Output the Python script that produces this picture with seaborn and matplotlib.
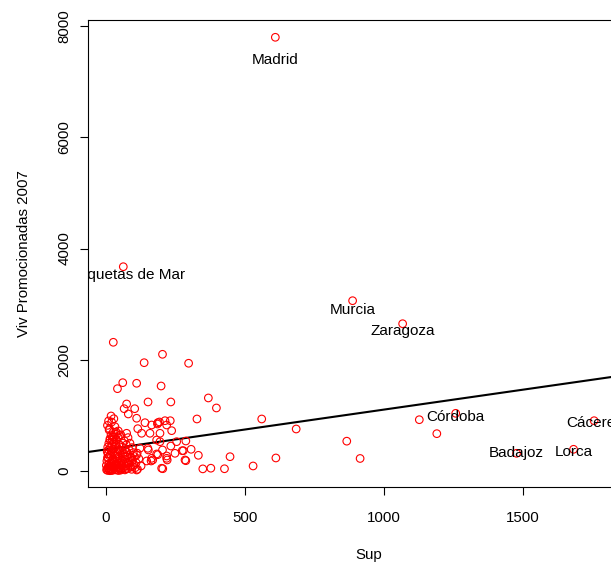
import numpy as np
import pandas as pd
import matplotlib
matplotlib.use('Agg')
import matplotlib.pyplot as plt
import seaborn as sns

# Municipios con etiqueta
nombres = ['Madrid', 'Roquetas de Mar', 'Murcia', 'Zaragoza', 'Córdoba',
           'Cáceres', 'Badajoz', 'Lorca']
sup_lab = [609, 62, 887, 1067, 1258, 1756, 1477, 1682]
viv_lab = [7798, 3673, 3062, 2648, 1037, 904, 318, 390]

# Resto de municipios (leídos a ojo del gráfico)
sup_resto = [866, 914, 1127, 1190, 684, 611, 529, 560, 426, 377, 348, 446, 397, 368,
             327, 332, 297, 203, 26, 137, 60, 41, 110, 198, 151, 233, 74, 65, 103,
             287, 233, 274, 278, 287, 220, 204, 186, 203, 150, 218, 146, 113,
             18, 80, 110, 140, 186, 212, 231, 218, 164, 11, 32, 74, 114, 128, 158,
             194, 236, 254, 194, 152, 306, 164, 182, 218, 248, 284, 110, 200, 14,
             192, 185, 110, 162, 168, 182,
             2, 4, 6, 8, 10, 12, 14, 16, 18, 20, 22, 24, 26, 28, 30, 32, 34, 36, 38, 40,
             42, 44, 46, 48, 50, 52, 55, 58, 60, 62, 65, 68, 70, 72, 75, 78, 80, 85, 88, 92,
             95, 100, 105, 3, 5, 7, 9, 11, 13, 15, 17, 19, 21, 23, 25, 27, 29, 31, 33, 35,
             37, 39, 41, 43, 45, 47, 49, 51, 53, 56, 59, 63, 66, 69, 73, 76, 79, 83, 86, 90,
             94, 98, 102, 1, 6, 10, 14, 18, 22, 26, 30, 34, 38, 44, 4, 8, 12, 16, 20, 24,
             28, 32, 36, 40, 46, 52, 57, 61, 67, 71, 77, 82, 87, 96, 108, 112, 118, 122, 126,
             5, 12, 20, 28, 36, 48, 9, 24]
viv_resto = [536, 225, 922, 671, 755, 234, 90, 935, 40, 50, 38, 257, 1133, 1313,
             935, 282, 1937, 2098, 2314, 1947, 1588, 1480, 1577, 1528, 1241, 1241, 1205, 1120, 1120,
             539, 449, 365, 365, 185, 198, 41, 293, 378, 408, 270, 180, 31,
             989, 1025, 948, 868, 868, 904, 904, 827, 827, 737, 797, 678, 761, 678, 678,
             678, 725, 527, 527, 378, 390, 228, 306, 228, 318, 198, 18, 49, 557,
             881, 845, 288, 180, 198, 557,
             20, 45, 10, 60, 30, 85, 5, 120, 40, 150, 70, 15, 200, 95, 50, 260, 130, 25, 180, 75,
             310, 8, 140, 55, 230, 100, 35, 175, 280, 60, 120, 20, 210, 90, 340, 45, 160, 250, 70, 30,
             190, 110, 60, 180, 240, 310, 380, 130, 270, 420, 90, 350, 470, 210, 390, 520, 160, 440, 20, 300,
             560, 110, 400, 610, 250, 480, 30, 360, 650, 200, 430, 330, 540, 260, 470, 150, 600, 380, 500, 240,
             420, 330, 260, 100, 430, 500, 580, 650, 560, 700, 610, 480, 660, 720, 350, 240, 20, 300, 10, 330,
             400, 120, 450, 220, 380, 15, 90, 500, 380, 40, 280, 110, 180, 80, 150, 320, 220, 410, 90,
             820, 760, 880, 940, 700, 640, 900, 610]

# Recta de regresión
intercepto = 388
pendiente = 0.716

# Desplazamiento de cada etiqueta respecto a su punto (en puntos)
desp = {'Madrid': (0, -16.5), 'Roquetas de Mar': (2, -6), 'Murcia': (0, -6.5),
        'Zaragoza': (0, -5), 'Córdoba': (0, -3), 'Cáceres': (0, -2),
        'Badajoz': (0, 0.5), 'Lorca': (0, -2)}

df = pd.DataFrame({'Sup': sup_resto + sup_lab, 'Viv': viv_resto + viv_lab})

sns.set_theme(style='white')
plt.rcParams['font.family'] = ['Liberation Sans', 'DejaVu Sans']
plt.rcParams['text.color'] = 'black'
plt.rcParams['axes.labelcolor'] = 'black'

fig = plt.figure(figsize=(6.11, 5.64), dpi=100)
ax = fig.add_axes([88 / 611, 77 / 564, 562 / 611, 467 / 564])

sns.scatterplot(data=df, x='Sup', y='Viv', ax=ax, marker='o', s=30,
                color='red', facecolor='none', edgecolor='red', linewidth=0.8,
                zorder=3)
ax.axline((0, intercepto), slope=pendiente, color='black', linewidth=1.5, zorder=2)

for nombre, x, y in zip(nombres, sup_lab, viv_lab):
    ax.annotate(nombre, (x, y), xytext=desp[nombre], textcoords='offset points',
                ha='center', va='center', fontsize=11, color='black',
                annotation_clip=False, clip_on=True, zorder=4)

ax.set_xlim(-65, 1957)
ax.set_ylim(-288, 8109)
ax.set_xticks([0, 500, 1000, 1500])
ax.set_yticks([0, 2000, 4000, 6000, 8000])
ax.set_xlabel('Sup', fontsize=10.8, labelpad=17, color='black')
ax.set_ylabel('Viv Promocionadas 2007', fontsize=10.8, labelpad=19, color='black')

for sp in ax.spines.values():
    sp.set_color('black')
    sp.set_linewidth(0.8)
ax.tick_params(axis='both', direction='out', length=6, width=0.8, colors='black',
               labelsize=10.8, left=True, bottom=True)
ax.tick_params(axis='x', pad=11)
ax.tick_params(axis='y', pad=6)
plt.setp(ax.get_yticklabels(), rotation=90, va='center')
ax.grid(False)

fig.savefig('out.png', dpi=100)
